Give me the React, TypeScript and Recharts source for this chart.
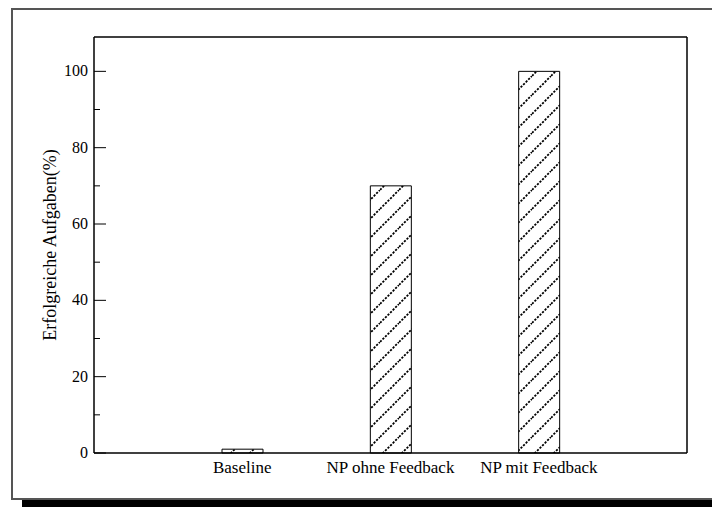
import React from 'react';
import { BarChart, Bar, XAxis, YAxis } from 'recharts';

const categories = ['Baseline', 'NP ohne Feedback', 'NP mit Feedback'];
const successRate = [1, 70, 100];
const yTicks = [0, 10, 20, 30, 40, 50, 60, 70, 80, 90, 100];
const labeledTicks = [0, 20, 40, 60, 80, 100];

const chartData = categories.map((name, i) => ({ name, value: successRate[i] }));

const FONT = '"Liberation Serif", "Times New Roman", serif';
const TICK_GAP = 6;
const HATCH = 19;

// y tick: label on the left axis only, inward tick marks on both sides
const YTick = (props: any) => {
  const { x, y, payload, side } = props;
  const major = labeledTicks.includes(payload.value);
  const len = major ? 12 : 6;
  if (side === 'right') {
    const ax = x - TICK_GAP;
    return <line x1={ax} y1={y} x2={ax - len} y2={y} stroke="#000" strokeWidth={1} />;
  }
  const ax = x + TICK_GAP;
  return (
    <g>
      <line x1={ax} y1={y} x2={ax + len} y2={y} stroke="#000" strokeWidth={1} />
      {major && (
        <text x={x} y={y} dy={5} textAnchor="end" fontFamily={FONT} fontSize={16} fill="#000">
          {payload.value}
        </text>
      )}
    </g>
  );
};

export default function App() {
  return (
    <div style={{ position: 'absolute', left: 0, top: 0, width: 712, height: 507, background: '#fff', overflow: 'hidden' }}>
      {/* page frame with drop shadow */}
      <div style={{ position: 'absolute', left: 11, top: 8, width: 720, height: 492, border: '2px solid #555', boxSizing: 'border-box' }} />
      <div style={{ position: 'absolute', left: 22, top: 500, width: 700, height: 7, background: '#000' }} />
      <div style={{ position: 'absolute', left: 0, top: 0 }}>
        <BarChart
          width={712}
          height={507}
          data={chartData}
          margin={{ top: 36, right: 24, bottom: 24, left: 6 }}
          barSize={41}
        >
          <defs>
            <pattern id="hatch" patternUnits="userSpaceOnUse" width={HATCH} height={HATCH}>
              <rect width={HATCH} height={HATCH} fill="#fff" />
              <path
                d={`M0,${HATCH} L${HATCH},0 M-5,5 L5,-5 M${HATCH - 5},${HATCH + 5} L${HATCH + 5},${HATCH - 5}`}
                stroke="#000"
                strokeWidth={1.8}
                strokeDasharray="2.2 1.4"
              />
            </pattern>
          </defs>
          <XAxis
            dataKey="name"
            height={30}
            padding={{ left: 74, right: 74 }}
            tickSize={0}
            tickMargin={8}
            axisLine={{ stroke: '#000', strokeWidth: 1.5 }}
            tick={{ fontFamily: FONT, fontSize: 17, fill: '#000' }}
          />
          <XAxis
            xAxisId="top"
            dataKey="name"
            orientation="top"
            height={1}
            tick={false}
            tickLine={false}
            axisLine={{ stroke: '#000', strokeWidth: 1.5 }}
          />
          <YAxis
            width={88}
            domain={[0, 109]}
            ticks={yTicks}
            interval={0}
            tickSize={0}
            tickMargin={TICK_GAP}
            axisLine={{ stroke: '#000', strokeWidth: 1.5 }}
            tick={<YTick side="left" />}
            label={{ value: 'Erfolgreiche Aufgaben(%)', angle: -90, position: 'center', fontFamily: FONT, fontSize: 18, fill: '#000' }}
          />
          <YAxis
            yAxisId="right"
            orientation="right"
            width={1}
            domain={[0, 109]}
            ticks={yTicks}
            interval={0}
            tickSize={0}
            tickMargin={TICK_GAP}
            axisLine={{ stroke: '#000', strokeWidth: 1.5 }}
            tick={<YTick side="right" />}
          />
          <Bar dataKey="value" fill="url(#hatch)" stroke="#000" strokeWidth={1} isAnimationActive={false} />
        </BarChart>
      </div>
    </div>
  );
}
